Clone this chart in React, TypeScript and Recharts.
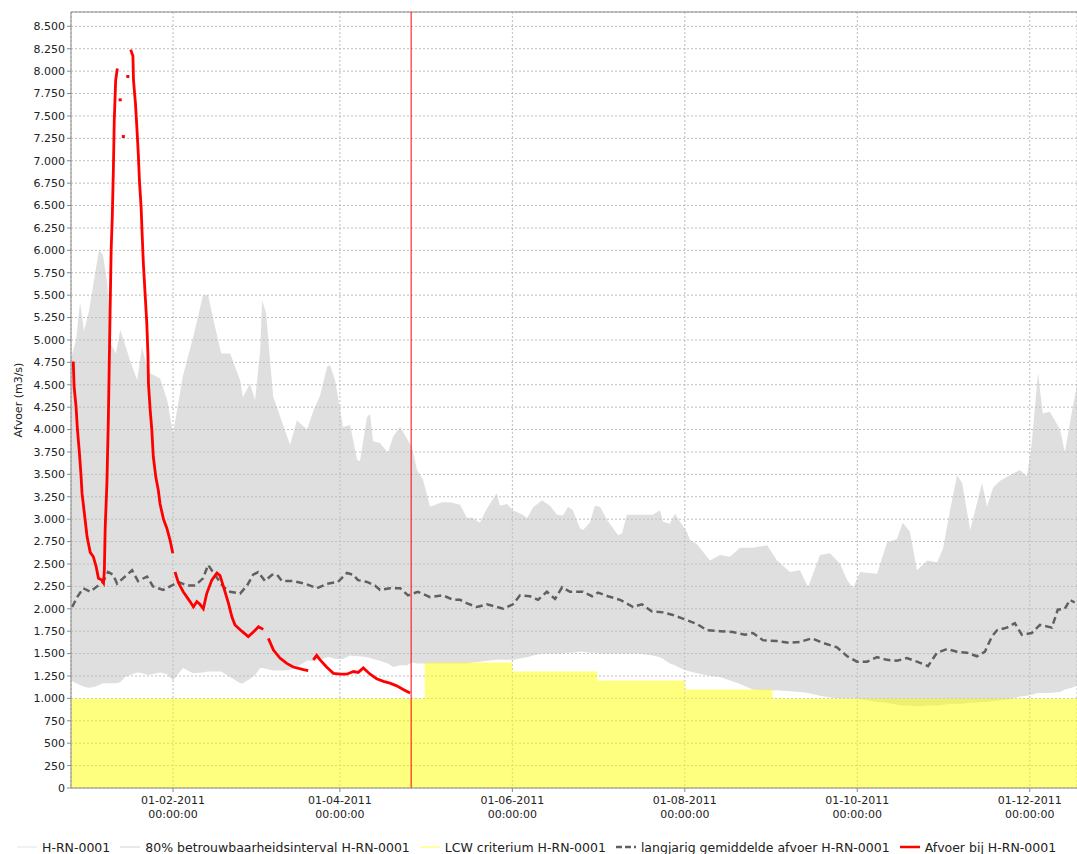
import React from 'react';
import {
  ComposedChart,
  Area,
  Line,
  XAxis,
  YAxis,
  CartesianGrid,
  ReferenceLine,
  Legend,
  Label,
} from 'recharts';

// x values are days counted from 1 Jan 2011
const xMin = -5.1;
const xMax = 350.7;
const forecastDay = 115.2; // 26-04-2011

const tickDays = [31, 90, 151, 212, 273, 334];
const tickLabels = ['01-02-2011', '01-04-2011', '01-06-2011', '01-08-2011', '01-10-2011', '01-12-2011'];

const yMax = 8660;
const yTicks = Array.from({ length: 35 }, (_, i) => i * 250);

// 80% betrouwbaarheidsinterval
const bandDays = [
  -5.1, -3.3, -1.9, -0.5, 1.3, 3.4, 4.8, 6.2, 7.7, 9.1, 10.8, 12.3, 14.0, 15.8, 18.3, 20.0, 22.2, 26.4, 28.9, 31.0,
  34.5, 38.1, 41.6, 43.4, 45.1, 48.0, 51.2, 54.7, 55.7, 57.2, 58.2, 60.0, 61.8, 62.5, 63.9, 65.3, 66.4, 69.9, 72.4, 74.8,
  78.4, 80.5, 83.0, 85.5, 86.5, 88.3, 91.1, 93.6, 96.1, 97.1, 99.6, 100.7, 101.7, 104.2, 107.0, 108.8, 111.3, 113.7, 115.5, 117.3,
  119.4, 121.9, 126.1, 129.0, 132.5, 135.0, 136.7, 139.5, 142.0, 145.5, 146.6, 149.1, 151.2, 154.7, 156.2, 158.3, 161.5, 164.3, 166.8, 168.9,
  170.7, 172.4, 174.9, 176.0, 178.4, 180.2, 182.0, 184.5, 186.6, 188.4, 189.8, 191.5, 196.1, 200.7, 203.2, 204.3, 206.7, 208.5, 210.3, 212.7,
  213.8, 216.3, 220.9, 224.4, 228.0, 231.5, 236.1, 241.1, 244.6, 249.2, 252.7, 255.6, 259.8, 263.4, 266.9, 269.4, 271.5, 274.0, 280.0, 283.5,
  287.0, 289.1, 291.6, 294.1, 297.7, 301.2, 303.3, 305.8, 308.3, 310.1, 312.9, 313.9, 317.1, 318.9, 321.0, 323.5, 327.0, 330.5, 333.0, 334.7,
  336.9, 338.6, 341.1, 344.7, 346.4, 348.9, 350.7,
];
const bandHigh = [
  4800, 5000, 5420, 5100, 5330, 5740, 6000, 5950, 5640, 4950, 4850, 5110, 4950, 4770, 4550, 4920, 4640, 4570, 4330, 3960,
  4600, 5030, 5500, 5500, 5250, 4850, 4850, 4550, 4360, 4450, 4510, 4330, 4880, 5440, 5300, 4770, 4370, 4050, 3830, 4100,
  4000, 4200, 4380, 4700, 4720, 4550, 4030, 4050, 3660, 3650, 4140, 4170, 3870, 3850, 3740, 3920, 4030, 3900, 3800, 3550,
  3440, 3140, 3190, 3190, 3160, 3010, 3020, 2960, 3120, 3290, 3150, 3170, 3100, 3050, 3010, 3130, 3210, 3150, 3050, 3040,
  3140, 3100, 2900, 2880, 2960, 3150, 3140, 2990, 2900, 2820, 2840, 3050, 3050, 3050, 3100, 2970, 2950, 3060, 2970, 2860,
  2770, 2720, 2540, 2600, 2580, 2680, 2680, 2710, 2540, 2410, 2430, 2240, 2600, 2620, 2500, 2320, 2230, 2410, 2390, 2740,
  2780, 2960, 2860, 2430, 2540, 2520, 2670, 3100, 3490, 3400, 2880, 3000, 3400, 3140, 3350, 3430, 3490, 3550, 3480, 3850,
  4630, 4180, 4200, 4000, 3750, 4200, 4500,
];
const bandLow = [
  1200, 1170, 1150, 1130, 1120, 1130, 1150, 1170, 1170, 1170, 1170, 1180, 1240, 1260, 1290, 1280, 1260, 1290, 1270, 1200,
  1340, 1280, 1290, 1300, 1300, 1300, 1240, 1170, 1170, 1200, 1220, 1260, 1340, 1340, 1330, 1320, 1310, 1310, 1320, 1350,
  1420, 1420, 1430, 1460, 1460, 1440, 1440, 1480, 1470, 1470, 1460, 1450, 1440, 1420, 1390, 1350, 1370, 1370, 1400, 1390,
  1390, 1390, 1390, 1390, 1390, 1390, 1400, 1410, 1420, 1430, 1430, 1430, 1430, 1450, 1460, 1480, 1500, 1500, 1500, 1500,
  1510, 1510, 1520, 1520, 1510, 1510, 1500, 1500, 1500, 1500, 1500, 1500, 1500, 1480, 1460, 1440, 1390, 1370, 1340, 1310,
  1300, 1280, 1250, 1240, 1200, 1160, 1100, 1090, 1090, 1080, 1070, 1060, 1030, 1010, 1000, 1000, 1000, 990, 960, 950,
  930, 920, 920, 910, 920, 920, 930, 940, 940, 940, 950, 950, 960, 960, 970, 980, 990, 1020, 1030, 1040,
  1060, 1060, 1060, 1070, 1100, 1120, 1140,
];

// LCW criterium (stepwise per month)
const lcwDays = [-5.1, 120, 151, 181, 212, 243, 350.7];
const lcwVals = [1000, 1400, 1300, 1200, 1100, 1000, 1000];

// langjarig gemiddelde afvoer
const meanDays = [
  -4.7, -2.9, -0.8, 1.7, 4.1, 6.2, 8.0, 9.8, 11.2, 13.3, 16.5, 18.6, 21.8, 23.9, 27.5, 30.6, 32.8, 35.9, 38.8, 41.6,
  43.4, 45.1, 48.7, 51.2, 54.7, 57.2, 59.3, 61.1, 63.5, 66.0, 67.8, 69.5, 73.4, 77.7, 81.9, 85.5, 89.3, 92.5, 94.7, 96.4,
  99.6, 102.4, 104.2, 107.7, 111.3, 114.1, 117.6, 121.9, 126.5, 130.0, 132.5, 135.0, 138.5, 142.0, 145.6, 147.7, 151.2, 153.7, 157.2, 160.1,
  163.2, 166.1, 168.6, 171.4, 176.0, 179.2, 181.3, 184.8, 189.1, 193.7, 196.8, 200.4, 204.3, 207.8, 211.3, 216.3, 219.8, 224.4, 229.0, 233.3,
  236.1, 239.6, 244.6, 249.2, 252.7, 256.9, 260.8, 265.8, 269.4, 272.9, 276.4, 280.0, 283.5, 287.0, 290.5, 294.1, 298.0, 301.2, 304.7, 308.3,
  311.8, 315.3, 318.1, 320.6, 322.4, 325.9, 328.7, 331.2, 334.7, 337.6, 341.8, 343.9, 346.4, 348.2, 349.9,
];
const meanVals = [
  2020, 2130, 2230, 2190, 2250, 2300, 2410, 2380, 2280, 2340, 2430, 2310, 2360, 2250, 2210, 2260, 2300, 2260, 2260, 2340,
  2490, 2410, 2250, 2190, 2170, 2260, 2380, 2410, 2310, 2380, 2380, 2310, 2310, 2280, 2230, 2280, 2300, 2400, 2380, 2320,
  2300, 2260, 2210, 2230, 2230, 2150, 2190, 2130, 2150, 2100, 2100, 2060, 2020, 2050, 2020, 2000, 2050, 2150, 2140, 2100,
  2190, 2110, 2240, 2190, 2190, 2140, 2180, 2140, 2100, 2020, 2050, 1970, 1960, 1930, 1890, 1830, 1760, 1750, 1740, 1710,
  1730, 1650, 1640, 1620, 1630, 1670, 1620, 1570, 1470, 1410, 1410, 1460, 1430, 1420, 1450, 1410, 1360, 1510, 1550, 1520,
  1510, 1470, 1520, 1690, 1760, 1790, 1840, 1710, 1730, 1820, 1790, 1990, 2000, 2100, 2070,
];

// gemeten afvoer (null = onderbreking)
const obsDays = [
  -4.3, -4.0, -3.3, -2.8, -2.2, -1.6, -1.2, -0.5, 0.2, 0.6, 1.7, 2.8, 3.8, 4.6, 5.8, 6.4, 6.7, 7.0, 7.6, 8.1,
  8.7, 9.1, 9.5, 9.9, 10.2, 10.7, 11.3, 13.5, 16.0, 16.8, 17.0, 17.7, 18.2, 18.7, 19.1, 19.7, 20.1, 20.5, 21.1, 21.7,
  22.1, 22.3, 22.9, 23.5, 24.0, 24.9, 25.8, 26.4, 27.6, 28.8, 29.9, 30.9, 31.3, 31.7, 32.9, 34.6, 37.0, 38.2, 39.4, 40.5,
  41.7, 42.9, 44.7, 46.5, 47.6, 48.8, 50.6, 51.8, 52.9, 55.3, 57.6, 59.4, 61.2, 62.9, 64.0, 64.7, 66.5, 68.8, 71.2, 73.5,
  77.1, 78.8, 79.5, 80.6, 81.8, 83.0, 85.3, 87.7, 90.1, 92.4, 94.8, 96.5, 98.3, 100.7, 103.0, 105.4, 107.7, 110.1, 112.4, 114.8,
];
const obsVals = [
  4760, 4480, 4250, 3990, 3770, 3510, 3290, 3100, 2910, 2800, 2630, 2580, 2470, 2340, 2320, 2290, 2430, 2910, 3400, 4100,
  5260, 6000, 6370, 6920, 7450, 7900, 8030, null, 8240, 8170, 7900, 7640, 7370, 7080, 6780, 6480, 6150, 5850, 5520, 5190,
  4850, 4510, 4220, 3990, 3700, 3470, 3320, 3170, 3000, 2900, 2770, 2620, null, 2410, 2290, 2190, 2080, 2020, 2080, 2050,
  2000, 2170, 2320, 2400, 2370, 2250, 2060, 1910, 1820, 1750, 1690, 1740, 1800, 1770, null, 1670, 1540, 1450, 1390, 1350,
  1320, 1310, null, 1430, 1480, 1430, 1350, 1280, 1270, 1270, 1300, 1290, 1340, 1270, 1220, 1190, 1170, 1140, 1100, 1060,
];
const obsDotDays = [12.3, 13.4, 15.0];
const obsDotVals = [7680, 7270, 7940];

const legendLabels = [
  'H-RN-0001',
  '80% betrouwbaarheidsinterval H-RN-0001',
  'LCW criterium H-RN-0001',
  'langjarig gemiddelde afvoer H-RN-0001',
  'Afvoer bij H-RN-0001',
];

const bandData = bandDays.map((day, i) => ({ day, range: [bandLow[i], bandHigh[i]] }));
const lcwData = lcwDays.map((day, i) => ({ day, v: lcwVals[i] }));
const meanData = meanDays.map((day, i) => ({ day, v: meanVals[i] }));
const obsData = obsDays.map((day, i) => ({ day, v: obsVals[i] }));
const dotData = obsDotDays.map((day, i) => ({ day, v: obsDotVals[i] }));

const FONT = '"DejaVu Sans", Verdana, sans-serif';
const fmtNl = (v: number) => String(v).replace(/\B(?=(\d{3})+(?!\d))/g, '.');

const DateTick = ({ x, y, payload }: any) => {
  const i = tickDays.indexOf(payload.value);
  return (
    <g transform={`translate(${x},${y})`}>
      <text textAnchor="middle" fontSize={11} fontFamily={FONT} fill="#222">
        <tspan x={0} dy={10}>{tickLabels[i]}</tspan>
        <tspan x={0} dy={14}>00:00:00</tspan>
      </text>
    </g>
  );
};

const legendIcons = [
  { color: '#ececec', width: 1.5, dash: undefined },
  { color: '#e0e0e0', width: 1.5, dash: undefined },
  { color: '#ffff8c', width: 1.5, dash: undefined },
  { color: '#606060', width: 2.5, dash: '6 3' },
  { color: '#ff0000', width: 2.5, dash: undefined },
];

const LegendRow = () => (
  <div
    style={{
      display: 'flex',
      alignItems: 'center',
      height: 14,
      paddingLeft: 17,
      fontFamily: FONT,
      fontSize: 12.5,
      color: '#222',
      whiteSpace: 'nowrap',
    }}
  >
    {legendLabels.map((label, i) => (
      <div key={label} style={{ display: 'flex', alignItems: 'center', marginRight: 10 }}>
        <svg width={20} height={10} style={{ marginRight: 5 }}>
          <line
            x1={0}
            y1={5}
            x2={20}
            y2={5}
            stroke={legendIcons[i].color}
            strokeWidth={legendIcons[i].width}
            strokeDasharray={legendIcons[i].dash}
          />
        </svg>
        <span>{label}</span>
      </div>
    ))}
  </div>
);

export default function App() {
  return (
    <div
      style={{
        position: 'absolute',
        left: 0,
        top: 0,
        width: 1077,
        height: 854,
        overflow: 'hidden',
        background: '#fff',
        fontFamily: FONT,
      }}
    >
      <ComposedChart width={1077} height={854} margin={{ top: 12, right: 0, bottom: 0, left: 0 }}>
        <CartesianGrid stroke="#bdbdbd" strokeDasharray="2 2" />
        <XAxis
          type="number"
          dataKey="day"
          domain={[xMin, xMax]}
          allowDataOverflow
          ticks={tickDays}
          interval={0}
          height={52}
          tick={<DateTick />}
          tickSize={4}
          axisLine={{ stroke: '#888' }}
          tickLine={{ stroke: '#888' }}
        />
        <YAxis
          type="number"
          domain={[0, yMax]}
          allowDataOverflow
          ticks={yTicks}
          interval={0}
          width={71}
          tickFormatter={fmtNl}
          tick={{ fontSize: 11, fill: '#222', fontFamily: FONT }}
          tickSize={4}
          axisLine={{ stroke: '#888' }}
          tickLine={{ stroke: '#888' }}
        >
          <Label
            content={() => (
              <text
                x={18}
                y={400}
                transform="rotate(-90 18 400)"
                textAnchor="middle"
                dominantBaseline="central"
                fontSize={11}
                fontFamily={FONT}
                fill="#222"
              >
                Afvoer (m3/s)
              </text>
            )}
          />
        </YAxis>
        <Area
          data={bandData}
          dataKey="range"
          type="linear"
          stroke="none"
          fill="#c0c0c0"
          fillOpacity={0.5}
          isAnimationActive={false}
          legendType="none"
        />
        <Area
          data={lcwData}
          dataKey="v"
          type="stepAfter"
          stroke="none"
          fill="#ffff00"
          fillOpacity={0.5}
          baseValue={0}
          isAnimationActive={false}
          legendType="none"
        />
        <Line
          data={meanData}
          dataKey="v"
          type="linear"
          stroke="#606060"
          strokeWidth={2.5}
          strokeDasharray="7 4"
          dot={false}
          isAnimationActive={false}
          legendType="none"
        />
        <Line
          data={obsData}
          dataKey="v"
          type="linear"
          stroke="#ff0000"
          strokeWidth={2.8}
          connectNulls={false}
          dot={false}
          isAnimationActive={false}
          legendType="none"
        />
        <Line
          data={dotData}
          dataKey="v"
          stroke="none"
          strokeWidth={0}
          dot={(p: any) => <rect key={p.index} x={p.cx - 1.5} y={p.cy - 1.5} width={3} height={3} fill="#ff0000" />}
          isAnimationActive={false}
          legendType="none"
        />
        <ReferenceLine y={yMax} stroke="#888" />
        <ReferenceLine x={forecastDay} stroke="#ff0000" strokeWidth={1} />
        <Legend verticalAlign="bottom" align="left" content={() => <LegendRow />} wrapperStyle={{ left: 0, bottom: 0 }} />
      </ComposedChart>
    </div>
  );
}
